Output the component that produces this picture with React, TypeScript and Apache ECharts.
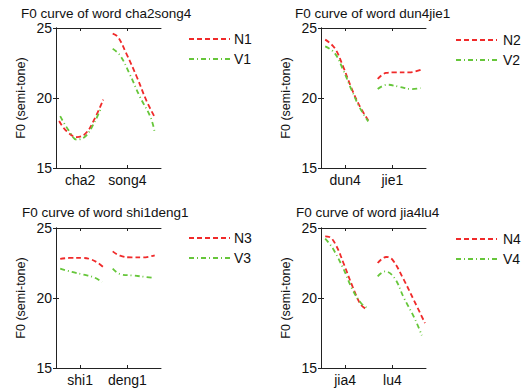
import React, { useEffect, useRef } from "react";
import * as echarts from "echarts";

// Word titles, syllable tick labels and legend names
const titles = [
  "F0 curve of word cha2song4",
  "F0 curve of word dun4jie1",
  "F0 curve of word shi1deng1",
  "F0 curve of word jia4lu4",
];
const syllables = [
  ["cha2", "song4"],
  ["dun4", "jie1"],
  ["shi1", "deng1"],
  ["jia4", "lu4"],
];
const nNames = ["N1", "N2", "N3", "N4"];
const vNames = ["V1", "V2", "V3", "V4"];
const tickPositions = [0.23, 0.68];
const yTicks = [15, 20, 25];

// Panel 1: cha2song4  ([normalized time, F0])
const n1a = [[0.03, 18.36], [0.10, 17.64], [0.20, 17.21], [0.28, 17.45], [0.36, 18.4], [0.45, 19.88]];
const n1b = [[0.54, 24.6], [0.59, 24.36], [0.67, 23.17], [0.77, 21.5], [0.86, 19.83], [0.94, 18.64]];
const v1a = [[0.04, 18.7], [0.12, 17.7], [0.20, 17.02], [0.28, 17.26], [0.36, 18.17], [0.43, 19.3]];
const v1b = [[0.54, 23.52], [0.61, 23.05], [0.70, 21.74], [0.80, 20.07], [0.90, 18.64], [0.94, 17.57]];

// Panel 2: dun4jie1
const n2a = [[0.04, 24.17], [0.13, 23.57], [0.21, 22.26], [0.29, 20.71], [0.37, 19.4], [0.45, 18.4]];
const n2b = [[0.54, 21.36], [0.62, 21.79], [0.71, 21.83], [0.84, 21.83], [0.95, 22.02]];
const v2a = [[0.04, 23.69], [0.13, 23.21], [0.21, 22.02], [0.29, 20.6], [0.37, 19.29], [0.45, 18.33]];
const v2b = [[0.54, 20.64], [0.63, 20.95], [0.75, 20.79], [0.86, 20.64], [0.95, 20.71]];

// Panel 3: shi1deng1
const n3a = [[0.04, 22.79], [0.13, 22.86], [0.26, 22.86], [0.34, 22.74], [0.40, 22.5], [0.46, 22.14]];
const n3b = [[0.54, 23.33], [0.61, 23.02], [0.72, 22.9], [0.83, 22.9], [0.94, 23.05]];
const v3a = [[0.04, 22.1], [0.15, 21.86], [0.26, 21.67], [0.36, 21.48], [0.44, 21.14]];
const v3b = [[0.54, 22.1], [0.61, 21.71], [0.74, 21.6], [0.86, 21.5], [0.94, 21.43]];

// Panel 4: jia4lu4
const n4a = [[0.04, 24.4], [0.08, 24.36], [0.14, 23.81], [0.22, 22.38], [0.30, 20.83], [0.38, 19.52], [0.44, 19.17]];
const n4b = [[0.54, 22.5], [0.62, 22.93], [0.68, 22.74], [0.78, 21.43], [0.89, 19.76], [0.99, 18.21]];
const v4a = [[0.04, 24.24], [0.11, 23.57], [0.21, 22.14], [0.30, 20.6], [0.38, 19.64], [0.44, 19.29]];
const v4b = [[0.54, 21.55], [0.61, 21.9], [0.70, 21.43], [0.79, 20.0], [0.89, 18.57], [0.96, 17.33]];

const nData = [[n1a, n1b], [n2a, n2b], [n3a, n3b], [n4a, n4b]];
const vData = [[v1a, v1b], [v2a, v2b], [v3a, v3b], [v4a, v4b]];

const RED = "#f02a2a";
const GREEN = "#66c63a";
const FONT = "Liberation Sans, Arial, sans-serif";

export default function App() {
  const ref = useRef<HTMLDivElement>(null);
  useEffect(() => {
    document.body.style.margin = "0";
    if (!ref.current) return;
    const chart = echarts.init(ref.current, null, { renderer: "svg" });

    const grids = [
      { left: 56, top: 28 },
      { left: 321, top: 28 },
      { left: 56, top: 228 },
      { left: 321, top: 228 },
    ];
    const titlePos = [
      { left: 21, top: 6 },
      { left: 295, top: 6 },
      { left: 22, top: 205 },
      { left: 296, top: 205 },
    ];
    const legendPos = [
      { left: 188, top: 32, gap: -1 },
      { left: 455, top: 33, gap: 1 },
      { left: 188, top: 231, gap: -1 },
      { left: 455, top: 232, gap: 1 },
    ];

    const xAxis: any[] = [];
    const yAxis: any[] = [];
    const series: any[] = [];
    const axisLine = { show: true, lineStyle: { color: "#222", width: 1 } };

    for (let i = 0; i < 4; i++) {
      const labels = syllables[i];
      xAxis.push({
        type: "value", gridIndex: i, min: 0, max: 1, position: "bottom",
        axisLine, splitLine: { show: false },
        axisTick: { show: true, inside: true, length: 3, customValues: tickPositions, lineStyle: { color: "#222" } },
        axisLabel: {
          show: true, customValues: tickPositions, margin: 5, fontSize: 14, color: "#111", fontFamily: FONT,
          formatter: (v: number) => (Math.abs(v - tickPositions[0]) < 1e-6 ? labels[0] : labels[1]),
        },
      });
      xAxis.push({
        type: "value", gridIndex: i, min: 0, max: 1, position: "top",
        axisLine, splitLine: { show: false },
        axisTick: { show: true, inside: true, length: 3, customValues: tickPositions, lineStyle: { color: "#222" } },
        axisLabel: { show: false },
      });
      yAxis.push({
        type: "value", gridIndex: i, min: 15, max: 25, interval: 5, position: "left",
        axisLine, splitLine: { show: false },
        axisTick: { show: true, inside: true, length: 3, customValues: yTicks, lineStyle: { color: "#222" } },
        axisLabel: { show: true, margin: 4, fontSize: 14, color: "#111", fontFamily: FONT },
        name: "F0 (semi-tone)", nameLocation: "middle", nameGap: 29,
        nameTextStyle: { fontSize: 12.5, color: "#111", fontFamily: FONT },
      });
      yAxis.push({
        type: "value", gridIndex: i, min: 15, max: 25, interval: 5, position: "right",
        axisLine, splitLine: { show: false },
        axisTick: { show: true, inside: true, length: 3, lineStyle: { color: "#222" } },
        axisLabel: { show: false },
      });
      for (const seg of nData[i]) {
        series.push({
          type: "line", name: nNames[i], xAxisIndex: 2 * i, yAxisIndex: 2 * i,
          data: seg, smooth: 0.4, symbol: "none", color: RED,
          lineStyle: { color: RED, width: 1.8, type: [5, 3] },
        });
      }
      for (const seg of vData[i]) {
        series.push({
          type: "line", name: vNames[i], xAxisIndex: 2 * i, yAxisIndex: 2 * i,
          data: seg, smooth: 0.4, symbol: "none", color: GREEN,
          lineStyle: { color: GREEN, width: 1.8, type: [5, 3, 1, 3] },
        });
      }
    }

    chart.setOption({
      animation: false,
      backgroundColor: "#fff",
      title: titles.map((t, i) => ({
        text: t, left: titlePos[i].left, top: titlePos[i].top, padding: 0,
        textStyle: { fontSize: 13.5, fontWeight: "normal", color: "#111", fontFamily: FONT },
      })),
      legend: legendPos.map((p, i) => ({
        data: [nNames[i], vNames[i]], orient: "vertical", left: p.left, top: p.top,
        itemWidth: 41, itemHeight: 14, itemGap: 6, padding: 0,
        itemStyle: { opacity: 0 },
        textStyle: { fontSize: 14, color: "#111", fontFamily: FONT, padding: [0, 0, 0, p.gap] },
      })),
      grid: grids.map((g) => ({ left: g.left, top: g.top, width: 105, height: 140 })),
      xAxis,
      yAxis,
      series,
    });
    return () => chart.dispose();
  }, []);
  return <div ref={ref} style={{ width: 527, height: 389 }} />;
}
